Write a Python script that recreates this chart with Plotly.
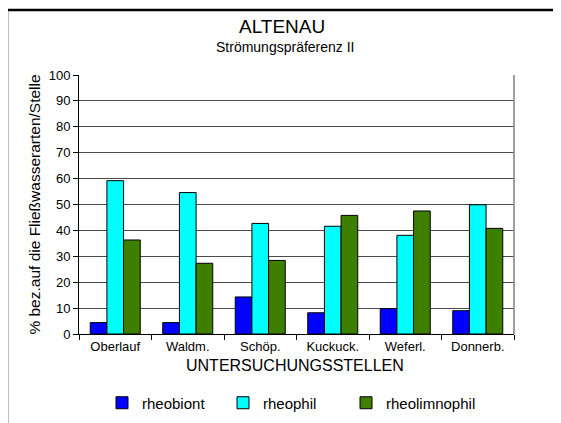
import plotly.graph_objects as go

categories = ["Oberlauf", "Waldm.", "Schöp.", "Kuckuck.", "Weferl.", "Donnerb."]
rheobiont = [4.4, 4.4, 14.3, 8.2, 9.8, 9.0]
rheophil = [59.2, 54.6, 42.7, 41.6, 38.1, 49.9]
rheolimnophil = [36.3, 27.3, 28.4, 45.8, 47.5, 40.8]
y_ticks = list(range(0, 101, 10))

FONT = "Arial, Liberation Sans, sans-serif"

# page has an 8px body margin; work in page coordinates and convert
OFF = 8
W, H = 561 - OFF, 423 - OFF
PL, PR, PT, PB = 79, 514, 75, 334          # plot area in page px
L, R, T, B = PL - OFF, W - (PR - OFF), PT - OFF, H - (PB - OFF)
pw, ph = W - L - R, H - T - B

def px_x(x):
    return (x - OFF - L) / pw

def px_y(y):
    return (H - B - (y - OFF)) / ph

def cx(x):
    return (x - OFF) / W

def cy(y):
    return 1 - (y - OFF) / H

fig = go.Figure()
series = [("rheobiont", rheobiont, "#0000FF", "legend", 102),
          ("rheophil", rheophil, "#00FFFF", "legend2", 223),
          ("rheolimnophil", rheolimnophil, "#3F7F00", "legend3", 346)]
legends = {}
for name, vals, col, lg, lx in series:
    fig.add_trace(go.Bar(x=categories, y=vals, name=name, legend=lg,
                         marker=dict(color=col, line=dict(color="black", width=1))))
    legends[lg] = dict(orientation="h", xref="container", yref="container",
                       x=cx(lx), xanchor="left",
                       y=cy(403), yanchor="middle",
                       font=dict(size=15, family=FONT),
                       bgcolor="rgba(0,0,0,0)")

fig.update_layout(
    width=W, height=H,
    margin=dict(l=L, r=R, t=T, b=B, pad=0, autoexpand=False),
    paper_bgcolor="white", plot_bgcolor="white",
    font=dict(family=FONT, color="black", size=13),
    barmode="group", bargap=0.31, bargroupgap=0,
    showlegend=True,
    **legends,
    xaxis=dict(showline=True, linecolor="black", linewidth=1,
               ticks="outside", tickson="boundaries", ticklen=5, tickcolor="black",
               tickfont=dict(size=13), showgrid=False),
    yaxis=dict(range=[0, 100], tickvals=y_ticks, showline=True, linecolor="black",
               linewidth=1, ticks="outside", ticklen=5, tickcolor="black",
               tickfont=dict(size=13),
               showgrid=True, gridcolor="#4a4a4a", gridwidth=1, zeroline=False,
               title=dict(text="% bez.auf die Fließwasserarten/Stelle",
                          font=dict(size=15.5), standoff=4)),
    shapes=[
        dict(type="line", xref="paper", yref="paper", x0=1, x1=1, y0=0, y1=1,
             line=dict(color="#808080", width=1.5)),
        dict(type="rect", xref="paper", yref="paper",
             x0=px_x(7), x1=px_x(600), y0=px_y(10), y1=px_y(460),
             line=dict(color="black", width=2.5), fillcolor="rgba(0,0,0,0)", layer="below"),
    ],
    annotations=[
        dict(text="ALTENAU", xref="paper", yref="paper", x=px_x(282), y=px_y(27),
             xanchor="center", yanchor="middle", showarrow=False, font=dict(size=19)),
        dict(text="Strömungspräferenz II", xref="paper", yref="paper", x=px_x(285), y=px_y(47),
             xanchor="center", yanchor="middle", showarrow=False, font=dict(size=14)),
        dict(text="UNTERSUCHUNGSSTELLEN", xref="paper", yref="paper", x=px_x(295), y=px_y(365),
             xanchor="center", yanchor="middle", showarrow=False, font=dict(size=16)),
    ],
)

fig.write_html("out.html")
